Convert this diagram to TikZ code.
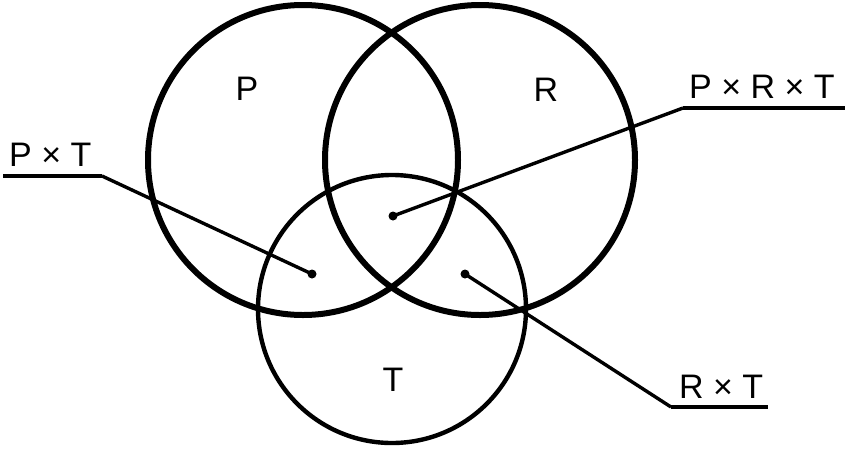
\documentclass[tikz,border=0pt]{standalone}
\usepackage{fontspec}
\setmainfont{Liberation Sans}
\usetikzlibrary{positioning}

\begin{document}
\begin{tikzpicture}[
  x=1pt, y=-1pt,
  setP/.style={draw, line width=6pt},
  setT/.style={draw, line width=4.4pt},
  lbl/.style={inner sep=0pt, font=\fontsize{34}{34}\selectfont},
  lead/.style={line width=3.4pt},
  uline/.style={line width=4.4pt},
  dotm/.style={circle, fill, inner sep=0pt, minimum size=9pt}
]
\useasboundingbox (0,0) rectangle (849,451);

% Sets
\draw[setP] (303,160) circle[radius=155pt];
\draw[setP] (480,160) circle[radius=155pt];
\draw[setT] (392,309) circle[radius=134pt];

% Set names
\node[lbl] (nP) at (247,89) {P};
\node[lbl] (nR) at (546,90) {R};
\node[lbl] (nT) at (393,380) {T};

% Region markers
\node[dotm] (dPT) at (312,274) {};
\node[dotm] (dPRT) at (393,216) {};
\node[dotm] (dRT) at (465,274) {};

% P x T
\node[lbl, anchor=south west] (lPT) at (9,167) {P × T};
\coordinate (uPTa) at (3,176);
\coordinate (uPTb) at (102,176);
\draw[uline] (uPTa) -- (uPTb);
\draw[lead] (uPTb) -- (dPT.center);

% P x R x T
\node[lbl, anchor=south west] (lPRT) at (689,99) {P × R × T};
\coordinate (uPRTa) at (683,108);
\coordinate (uPRTb) at (845,108);
\draw[uline] (uPRTa) -- (uPRTb);
\draw[lead] (uPRTa) -- (dPRT.center);

% R x T
\node[lbl, anchor=south west] (lRT) at (679,399) {R × T};
\coordinate (uRTa) at (671,407);
\coordinate (uRTb) at (768,407);
\draw[uline] (uRTa) -- (uRTb);
\draw[lead] (uRTa) -- (dRT.center);
\end{tikzpicture}
\end{document}
